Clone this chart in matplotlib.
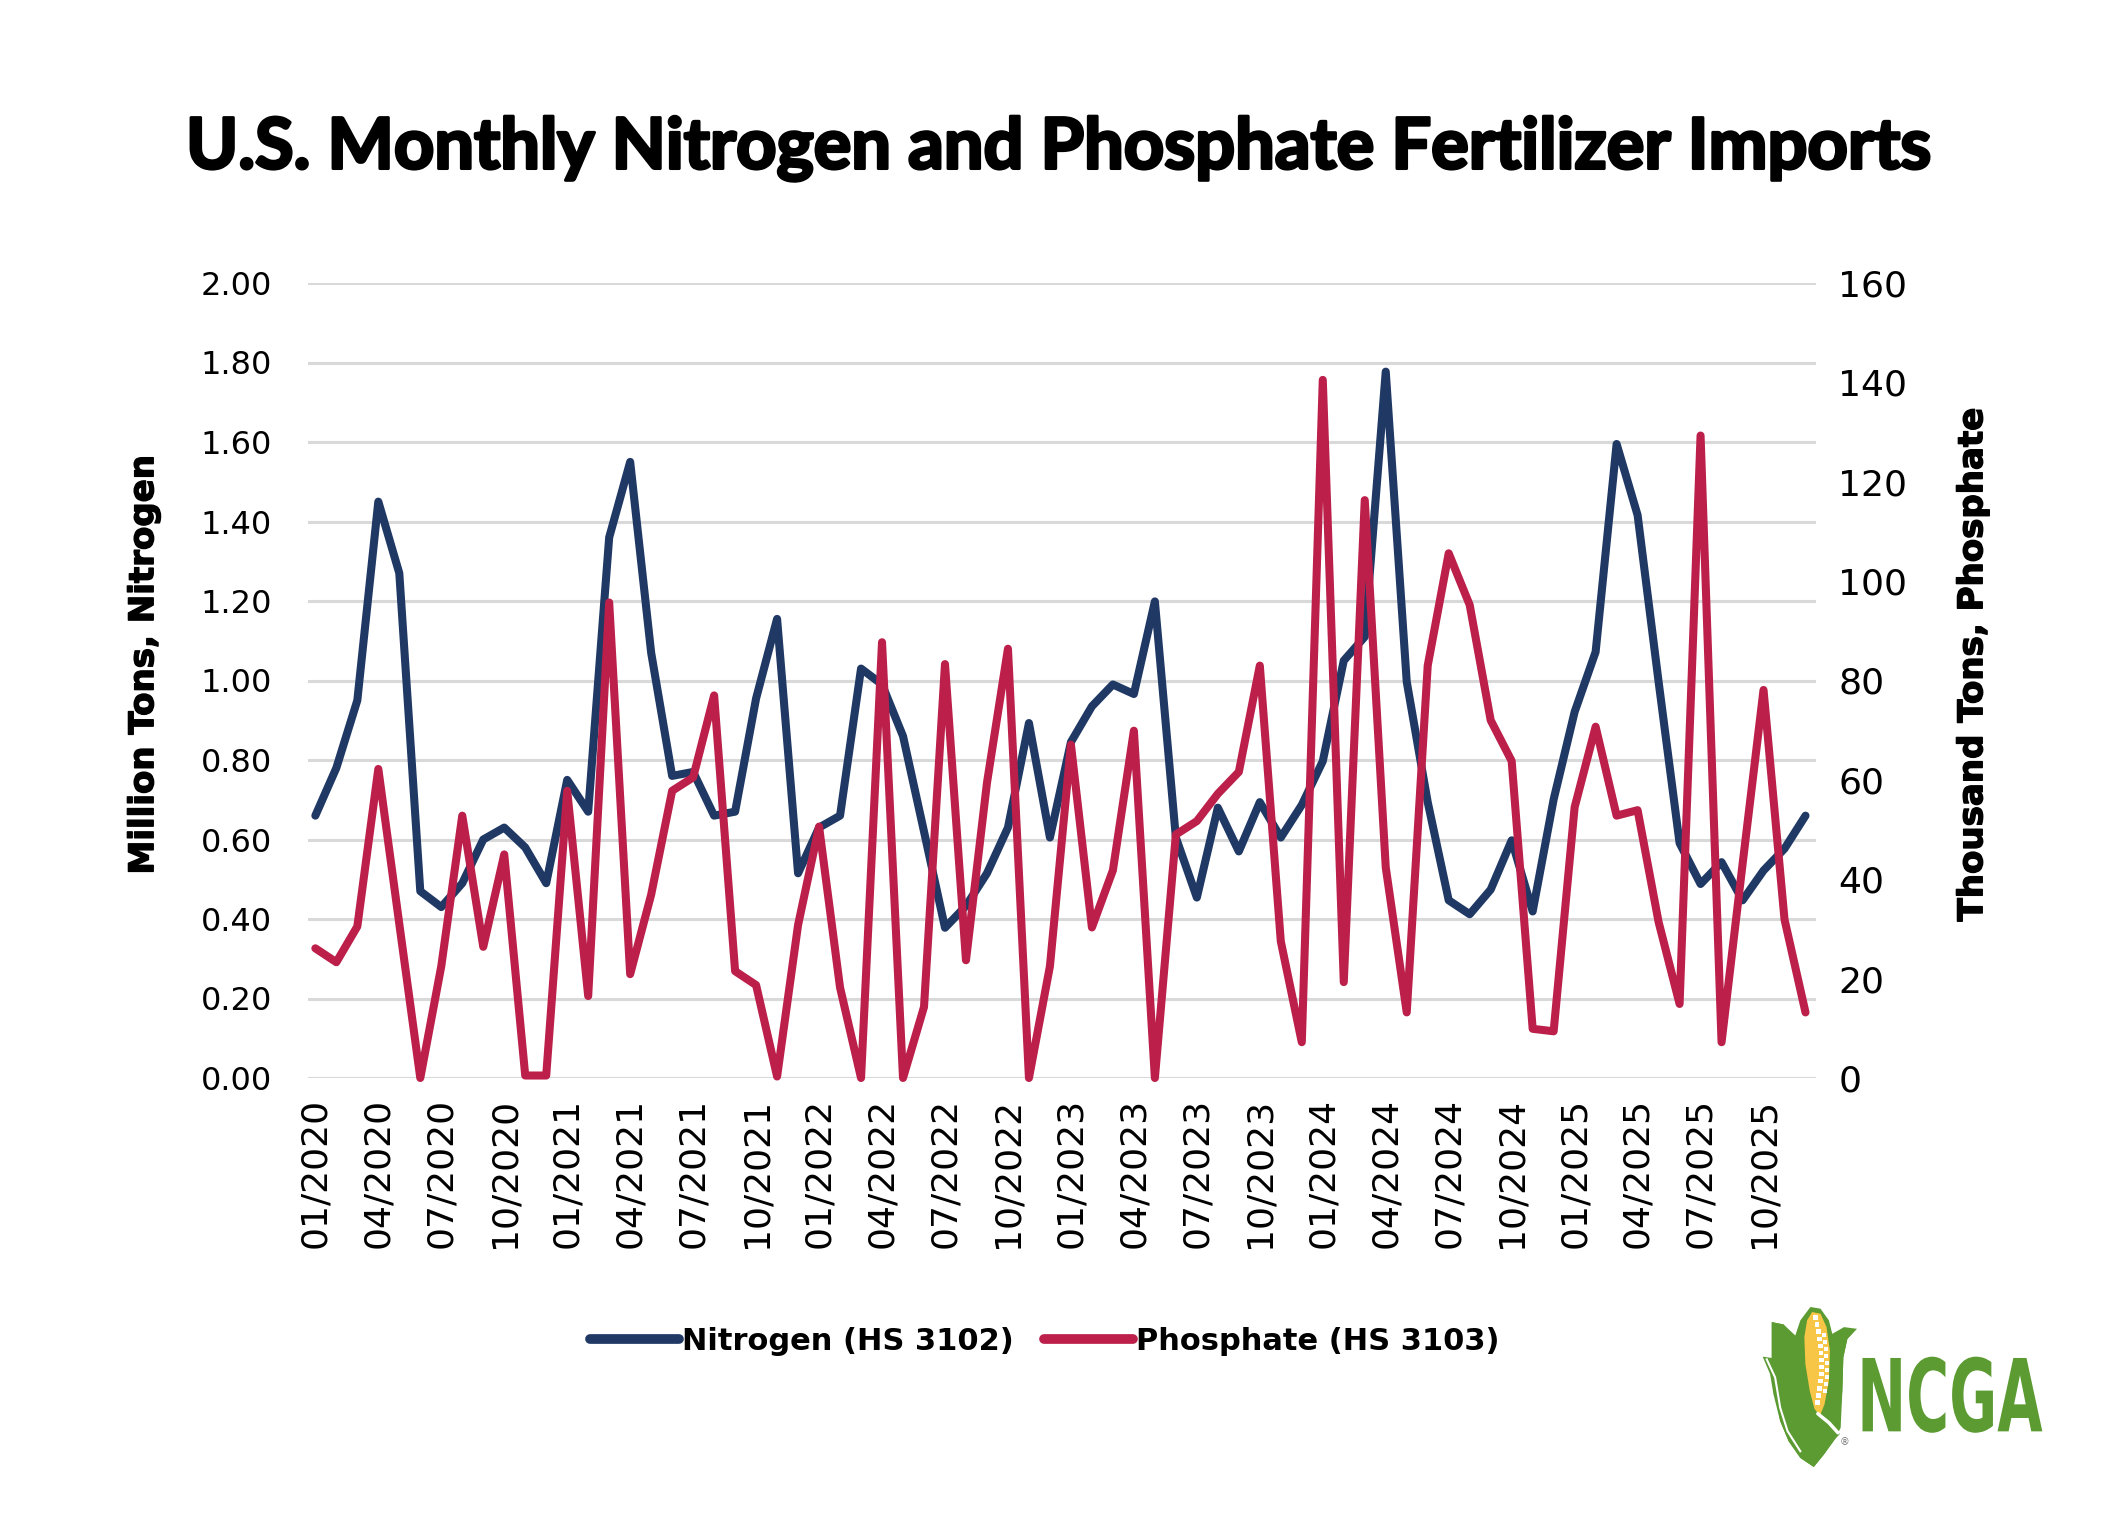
import numpy as np
import matplotlib
matplotlib.use("Agg")
import matplotlib.pyplot as plt
import matplotlib.patheffects as pe
from matplotlib.patches import Polygon, Rectangle, PathPatch
from matplotlib.textpath import TextPath
from matplotlib.font_manager import FontProperties
from matplotlib.transforms import Affine2D

# monthly data, 01/2020 .. 12/2025
years = [2020, 2021, 2022, 2023, 2024, 2025]
month_labels = ["%02d/%d" % (m, y) for y in years for m in range(1, 13)]

nitrogen = [0.66, 0.78, 0.95, 1.45, 1.27, 0.47, 0.43, 0.49, 0.60, 0.63, 0.58, 0.49,
            0.75, 0.67, 1.36, 1.55, 1.07, 0.76, 0.77, 0.66, 0.67, 0.955, 1.155, 0.515,
            0.63, 0.66, 1.03, 0.99, 0.86, 0.62, 0.378, 0.433, 0.515, 0.63, 0.893, 0.605,
            0.845, 0.935, 0.99, 0.966, 1.199, 0.605, 0.454, 0.68, 0.57, 0.694, 0.605, 0.687,
            0.797, 1.05, 1.11, 1.777, 0.997, 0.694, 0.447, 0.412, 0.474, 0.598, 0.419, 0.701,
            0.921, 1.072, 1.595, 1.416, 0.997, 0.591, 0.488, 0.543, 0.447, 0.522, 0.577, 0.66]

phosphate = [26.1, 23.3, 30.5, 62.2, 31.0, 0.0, 22.5, 52.8, 26.4, 45.0, 0.5, 0.5,
             57.8, 16.5, 95.7, 20.9, 36.9, 57.8, 60.5, 77.0, 21.5, 18.7, 0.3, 30.8,
             50.6, 18.2, 0.0, 87.7, 0.0, 14.3, 83.3, 23.7, 59.4, 86.4, 0.0, 22.5,
             67.1, 30.3, 41.8, 69.9, 0.0, 49.0, 51.7, 57.2, 61.6, 83.0, 27.5, 7.2,
             140.5, 19.3, 116.3, 42.4, 13.2, 83.0, 105.6, 95.2, 72.0, 63.8, 9.9, 9.4,
             54.5, 70.7, 52.8, 53.9, 31.4, 14.9, 129.3, 7.2, 43.0, 78.1, 31.9, 13.2]

left_ticks = [0.0, 0.2, 0.4, 0.6, 0.8, 1.0, 1.2, 1.4, 1.6, 1.8, 2.0]
right_ticks = [0, 20, 40, 60, 80, 100, 120, 140, 160]

navy = "#1f3864"
crimson = "#bb1f4a"
green = "#5b9b32"

W, H = 2109, 1520
fig = plt.figure(figsize=(W / 100, H / 100), dpi=100)
fig.patch.set_facecolor("white")

# axes box in pixels
x0, x1, y0, y1 = 308, 1816, 283, 1078
ax = fig.add_axes([x0 / W, 1 - y1 / H, (x1 - x0) / W, (y1 - y0) / H])
ax2 = ax.twinx()

x = np.arange(len(month_labels))
ax.plot(x, nitrogen, color=navy, lw=5.8, solid_joinstyle="round",
        solid_capstyle="round", label="Nitrogen (HS 3102)", clip_on=False, zorder=3)
ax2.plot(x, phosphate, color=crimson, lw=5.8, solid_joinstyle="round",
         solid_capstyle="round", label="Phosphate (HS 3103)", clip_on=False, zorder=3)

ax.set_xlim(-0.35, len(x) - 0.5)
ax.set_ylim(0, 2.0)
ax2.set_ylim(0, 160)

ax.set_yticks(left_ticks)
ax.set_yticklabels(["%.2f" % v for v in left_ticks])
ax2.set_yticks(right_ticks)
ax2.set_yticklabels([str(v) for v in right_ticks])
ax.set_xticks(x[::3])
ax.set_xticklabels(month_labels[::3], rotation=90)

ax.grid(axis="y", color="#d9d9d9", lw=2.2)
ax.set_axisbelow(True)
for a in (ax, ax2):
    for s in a.spines.values():
        s.set_visible(False)
    a.tick_params(length=0)

ax.tick_params(axis="y", pad=26, labelsize=23)
ax2.tick_params(axis="y", pad=16, labelsize=26)
ax.tick_params(axis="x", pad=14, labelsize=26)
for t in ax.get_yticklabels() + ax2.get_yticklabels() + ax.get_xticklabels():
    t.set_fontfamily("DejaVu Sans")

heavy = [pe.withStroke(linewidth=1.0, foreground="black")]
ax.set_ylabel("Million Tons, Nitrogen", fontsize=24.5, fontweight="bold", family="DejaVu Sans",
              path_effects=heavy)
ax2.set_ylabel("Thousand Tons, Phosphate", fontsize=24.5, fontweight="bold", family="DejaVu Sans",
               path_effects=heavy)
ax.yaxis.set_label_coords(-0.098, 0.52)
ax2.yaxis.set_label_coords(1.093, 0.52)

# title, sized to fit the reference width
title = fig.text(1059 / W, 1 - 149 / H, "U.S. Monthly Nitrogen and Phosphate Fertilizer Imports",
                 ha="center", va="center", fontsize=40, fontweight="bold", family="Lato",
                 path_effects=[pe.withStroke(linewidth=2.2, foreground="black")])
fig.canvas.draw()
tw = title.get_window_extent().width
title.set_fontsize(40 * 1745 / tw)

# legend
h1, l1 = ax.get_legend_handles_labels()
h2, l2 = ax2.get_legend_handles_labels()
leg = fig.legend(h1 + h2, l1 + l2, loc="center", bbox_to_anchor=(1045 / W, 1 - 1341 / H),
                 ncol=2, frameon=False, handlelength=2.9, handletextpad=0.1, columnspacing=1.0,
                 prop={"family": "DejaVu Sans", "weight": "bold", "size": 22})
for ln in leg.get_lines():
    ln.set_linewidth(7)
    ln.set_solid_capstyle("round")

# NCGA logo (coordinates follow the logo box)
lx0, lx1, ly0, ly1 = 1760, 2044, 1307, 1468
lg = fig.add_axes([lx0 / W, 1 - ly1 / H, (lx1 - lx0) / W, (ly1 - ly0) / H])
lg.set_xlim(180, 1025)
lg.set_ylim(560, 80)
lg.axis("off")

husk = [(188, 228), (215, 232), (215, 125), (250, 132), (285, 165), (300, 120), (330, 80),
        (360, 85), (385, 120), (395, 160), (430, 140), (468, 145), (440, 175), (428, 230),
        (425, 330), (420, 440), (405, 470), (370, 520), (340, 557), (300, 530), (265, 480),
        (240, 420), (220, 340), (210, 280)]
lg.add_patch(Polygon(husk, closed=True, fc=green, ec="none"))
cob = [(335, 95), (360, 100), (378, 140), (388, 210), (385, 300), (372, 370), (360, 400),
       (345, 395), (328, 330), (315, 250), (312, 170), (320, 120)]
lg.add_patch(Polygon(cob, closed=True, fc="#f7c646", ec="none"))
for k in range(13):
    ky = 112 + k * 21
    kx = 345 + 18 * np.sin(k / 12 * np.pi * 0.9)
    lg.add_patch(Rectangle((kx - 7, ky - 7), 14, 14, fc="white", ec="none"))
    if 2 <= k <= 10:
        lg.add_patch(Rectangle((kx + 10, ky + 3), 12, 12, fc="white", ec="none"))
leaf = [(215, 125), (250, 132), (275, 165), (290, 230), (305, 300), (330, 370), (360, 405),
        (418, 458), (405, 472), (370, 520), (340, 557), (300, 530), (265, 480), (240, 420),
        (222, 330), (215, 230)]
lg.add_patch(Polygon(leaf, closed=True, fc=green, ec="none"))
lg.plot([352, 385, 412], [398, 425, 455], color="white", lw=2.5, solid_capstyle="round")
right_leaf = [(468, 145), (430, 150), (405, 185), (392, 260), (388, 340), (380, 400), (395, 420),
              (415, 440), (425, 330), (428, 230), (440, 175)]
lg.add_patch(Polygon(right_leaf, closed=True, fc=green, ec="none"))
lg.plot([200, 225, 240, 262, 300], [236, 290, 380, 450, 510], color="white", lw=1.5)
lg.text(432, 482, "\u00ae", fontsize=7, color="#777777", ha="center", va="center")

fp = FontProperties(family=["Liberation Sans Narrow", "DejaVu Sans"], weight="bold")
tp = TextPath((0, 0), "NCGA", size=100, prop=fp)
bb = tp.get_extents()
sx = (1020 - 485) / bb.width
sy = (455 - 228) / bb.height
tr = Affine2D().translate(-bb.x0, -bb.y0).scale(sx, -sy).translate(485, 455)
lg.add_patch(PathPatch(tr.transform_path(tp), fc=green, ec="none"))

fig.savefig("out.png", dpi=100, facecolor="white")
